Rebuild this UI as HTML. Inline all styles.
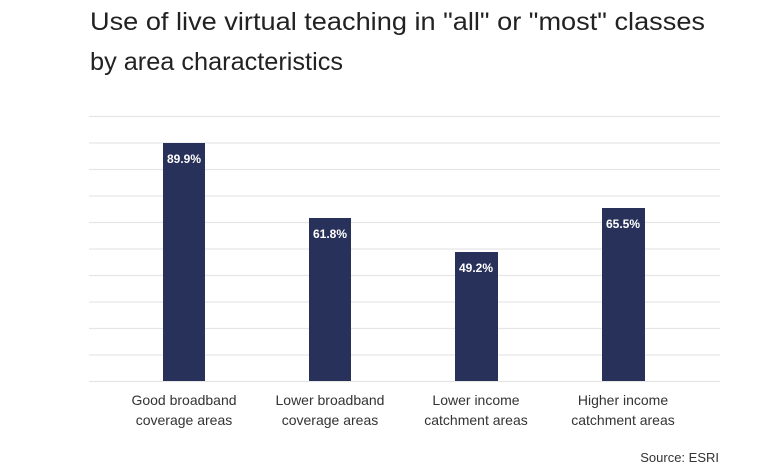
<!DOCTYPE html>
<html><head><style>body{margin:0;background:#fff}svg{display:block}text{font-family:"Liberation Sans",sans-serif}</style></head>
<body>
<svg width="780" height="470" viewBox="0 0 780 470">
<text x="90" y="30" font-size="25" fill="#222" textLength="615" lengthAdjust="spacingAndGlyphs">Use of live virtual teaching in "all" or "most" classes</text>
<text x="90" y="70" font-size="25" fill="#222" textLength="253" lengthAdjust="spacingAndGlyphs">by area characteristics</text>
<g stroke="#e6e6e6" stroke-width="1.2">
<line x1="89" x2="720" y1="116.5" y2="116.5"/><line x1="89" x2="720" y1="143" y2="143"/>
<line x1="89" x2="720" y1="169.5" y2="169.5"/><line x1="89" x2="720" y1="196" y2="196"/>
<line x1="89" x2="720" y1="222.5" y2="222.5"/><line x1="89" x2="720" y1="249" y2="249"/>
<line x1="89" x2="720" y1="275.5" y2="275.5"/><line x1="89" x2="720" y1="302" y2="302"/>
<line x1="89" x2="720" y1="328.5" y2="328.5"/><line x1="89" x2="720" y1="355" y2="355"/>
<line x1="89" x2="720" y1="381.5" y2="381.5"/>
</g>
<g fill="#283159">
<rect x="163" y="143" width="42" height="238"/>
<rect x="309" y="218" width="42" height="163"/>
<rect x="455" y="252" width="43" height="129"/>
<rect x="602" y="208" width="43" height="173"/>
</g>
<g fill="#fff" font-size="12" font-weight="bold" text-anchor="middle">
<text x="184" y="163">89.9%</text><text x="330" y="238">61.8%</text>
<text x="476" y="272">49.2%</text><text x="623" y="228">65.5%</text>
</g>
<g fill="#333" font-size="14" text-anchor="middle">
<text x="184" y="405">Good broadband</text><text x="184" y="425">coverage areas</text>
<text x="330" y="405">Lower broadband</text><text x="330" y="425">coverage areas</text>
<text x="476" y="405">Lower income</text><text x="476" y="425">catchment areas</text>
<text x="623" y="405">Higher income</text><text x="623" y="425">catchment areas</text>
</g>
<text x="719" y="462" font-size="13" fill="#333" text-anchor="end">Source: ESRI</text>
</svg>
</body></html>
